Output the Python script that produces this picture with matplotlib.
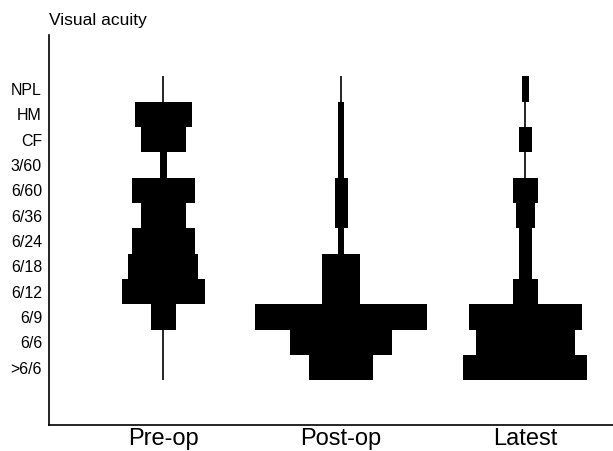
import matplotlib
matplotlib.use("Agg")
import matplotlib.pyplot as plt
import numpy as np

plt.rcParams['font.family'] = ['Liberation Sans', 'DejaVu Sans']

# Visual acuity categories, bottom to top
acuity = [">6/6", "6/6", "6/9", "6/12", "6/18", "6/24", "6/36", "6/60",
          "3/60", "CF", "HM", "NPL"]
groups = ["Pre-op", "Post-op", "Latest"]

# Number of eyes at each acuity level (same order as acuity)
pre_op = [0, 0, 4, 13, 11, 10, 7, 10, 1, 7, 9, 0]
post_op = [10, 16, 27, 6, 6, 1, 2, 2, 1, 1, 1, 0]
latest = [19.5, 15.5, 17.7, 4, 2, 2, 3, 4, 0, 2, 0, 1]

series = [pre_op, post_op, latest]
centers = [18, 46, 75]

fig = plt.figure(figsize=(6.13, 4.51), dpi=100)
ax = fig.add_axes([49/613, 26/451, 1 - 49/613, (425 - 35)/451])

y = np.arange(len(acuity))
for c, vals in zip(centers, series):
    vals = np.array(vals, dtype=float)
    ax.vlines(c, -0.5, len(acuity) - 0.5, color='black', linewidth=1.2, zorder=2)
    ax.barh(y, vals, left=c - vals / 2, height=1.0, color='black',
            edgecolor='none', zorder=3)

ax.set_xlim(0, 88.8)
ax.set_ylim(-2.27, 13.13)

ax.set_yticks(y)
ax.set_yticklabels(acuity, fontsize=11.5)
ax.set_xticks(centers)
ax.set_xticklabels(groups, fontsize=17)
ax.tick_params(axis='y', length=0, pad=5)
ax.tick_params(axis='x', length=0, pad=2)

for s in ['top', 'right']:
    ax.spines[s].set_visible(False)
for s in ['left', 'bottom']:
    ax.spines[s].set_linewidth(1.2)
    ax.spines[s].set_color('black')

fig.text(49/613, 1 - 20/451, "Visual acuity", fontsize=12.5,
         ha='left', va='center')

fig.savefig("out.png", dpi=100, facecolor='white')
